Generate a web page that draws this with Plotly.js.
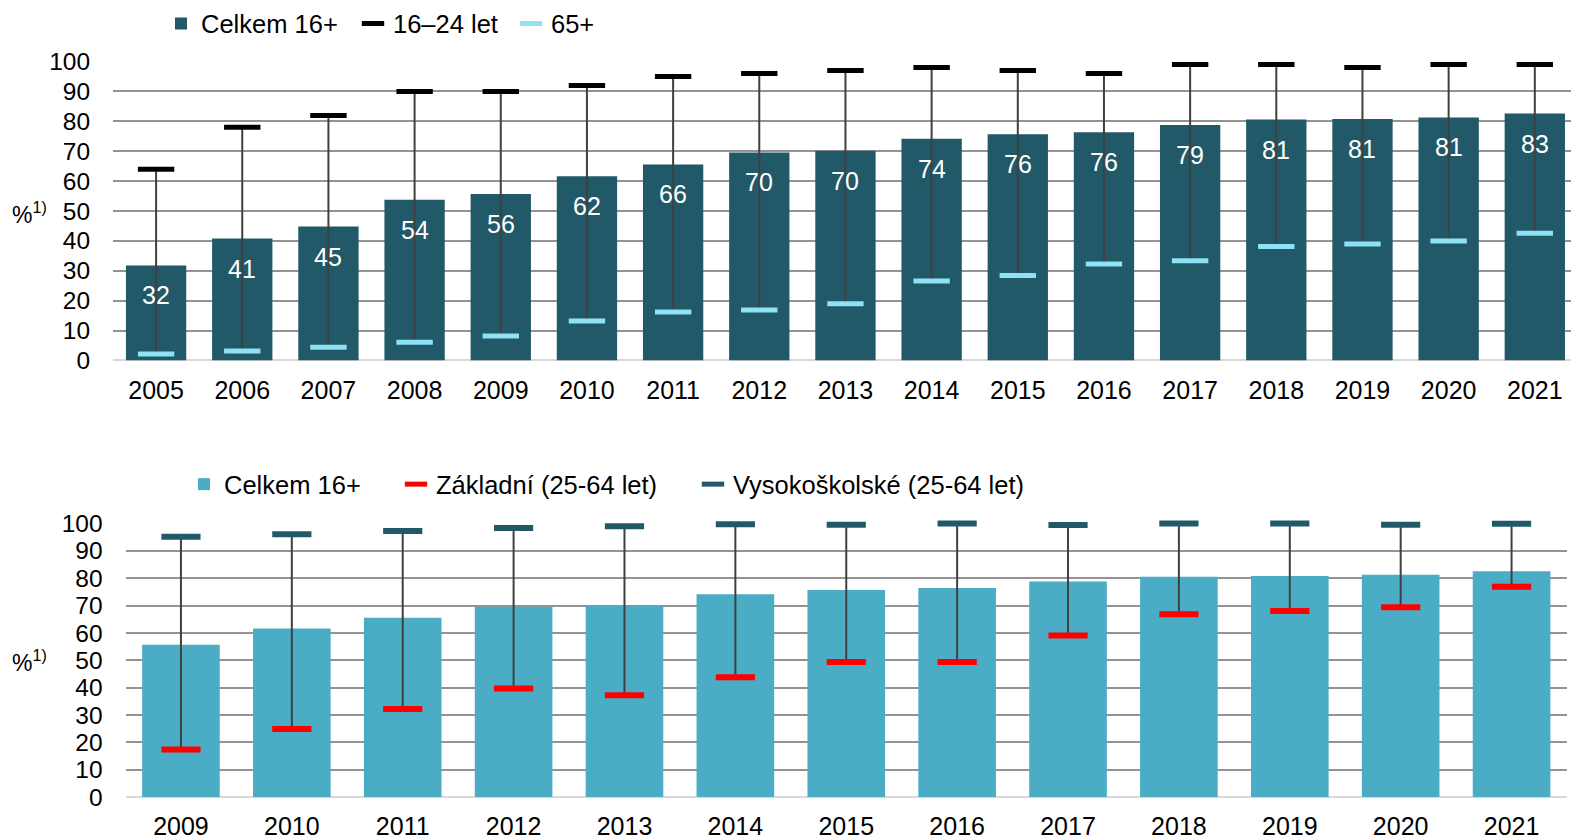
<!DOCTYPE html>
<html>
<head>
<meta charset="utf-8">
<script src="https://cdn.plot.ly/plotly-3.0.1.min.js"></script>
<style>html,body{margin:0;padding:0;background:#fff;}#chart{width:1571px;height:840px;}</style>
</head>
<body>
<div id="chart"></div>
<script>
// ---- Data ----
const years1 = ['2005','2006','2007','2008','2009','2010','2011','2012','2013','2014','2015','2016','2017','2018','2019','2020','2021'];
const total1 = [31.8, 40.8, 44.8, 53.8, 55.7, 61.6, 65.6, 69.6, 70.2, 74.2, 75.7, 76.4, 78.8, 80.6, 80.8, 81.3, 82.6];
const age1624 = [64, 78, 82, 90, 90, 92, 95, 96, 97, 98, 97, 96, 99, 99, 98, 99, 99];
const age65 = [2.2, 3.2, 4.4, 6.1, 8.2, 13.2, 16.2, 16.9, 19.0, 26.6, 28.4, 32.3, 33.4, 38.1, 39.0, 40.0, 42.6];

const years2 = ['2009','2010','2011','2012','2013','2014','2015','2016','2017','2018','2019','2020','2021'];
const total2 = [55.7, 61.6, 65.6, 69.6, 70.2, 74.2, 75.7, 76.4, 78.8, 80.6, 80.8, 81.3, 82.6];
const basic = [17.4, 24.9, 32.2, 39.7, 37.2, 43.8, 49.4, 49.4, 59.1, 66.8, 68.0, 69.4, 76.9];
const tertiary = [95.2, 96.1, 97.3, 98.4, 99.0, 99.8, 99.6, 100, 99.5, 100, 100, 99.6, 99.9];

const yTicks = [0,10,20,30,40,50,60,70,80,90,100];

// ---- helpers ----
const W = 1571, H = 840;
const px = v => v / W;
const py = v => 1 - v / H;
function whisker(xs, lo, hi) {
  const x = [], y = [];
  xs.forEach((c, i) => { x.push(c, c, null); y.push(lo[i], hi[i], null); });
  return {x, y};
}
const FONT = 'Liberation Sans, Arial, sans-serif';

const w1 = whisker(years1, age65, age1624);
const w2 = whisker(years2, basic, tertiary);

const traces = [
  {type:'bar', x: years1, y: total1, name:'Celkem 16+', marker:{color:'#215968'}, width:0.7,
   xaxis:'x', yaxis:'y', legend:'legend', hoverinfo:'y'},
  {type:'scatter', mode:'lines', x: w1.x, y: w1.y, line:{color:'#404040', width:2}, showlegend:false,
   xaxis:'x', yaxis:'y', hoverinfo:'skip'},
  {type:'scatter', mode:'markers', x: years1, y: age65, name:'65+',
   marker:{symbol:'line-ew', size:26, line:{width:5, color:'#8fe1f5'}, color:'#8fe1f5'},
   xaxis:'x', yaxis:'y', legend:'legend3', cliponaxis:false},
  {type:'scatter', mode:'markers', x: years1, y: age1624, name:'16–24 let',
   marker:{symbol:'line-ew', size:26, line:{width:5, color:'#000000'}, color:'#000000'},
   xaxis:'x', yaxis:'y', legend:'legend2', cliponaxis:false},

  {type:'bar', x: years2, y: total2, name:'Celkem 16+', marker:{color:'#4bacc6'}, width:0.7,
   xaxis:'x2', yaxis:'y2', legend:'legend4', hoverinfo:'y'},
  {type:'scatter', mode:'lines', x: w2.x, y: w2.y, line:{color:'#404040', width:2}, showlegend:false,
   xaxis:'x2', yaxis:'y2', hoverinfo:'skip'},
  {type:'scatter', mode:'markers', x: years2, y: basic, name:'Základní (25-64 let)',
   marker:{symbol:'line-ew', size:28, line:{width:6, color:'#ff0000'}, color:'#ff0000'},
   xaxis:'x2', yaxis:'y2', legend:'legend5', cliponaxis:false},
  {type:'scatter', mode:'markers', x: years2, y: tertiary, name:'Vysokoškolské (25-64 let)',
   marker:{symbol:'line-ew', size:28, line:{width:6, color:'#215968'}, color:'#215968'},
   xaxis:'x2', yaxis:'y2', legend:'legend6', cliponaxis:false}
];

// bar value labels (top chart) built from the data; category axes take the serial index
const annotations = years1.map((c, i) => ({
  x: i, y: total1[i], xref:'x', yref:'y', text: String(Math.round(total1[i])),
  showarrow:false, yshift:-30, font:{family:FONT, size:25, color:'#ffffff'}
}));
annotations.push(
  {xref:'paper', yref:'paper', x:px(10), y:py(208), xanchor:'left', yanchor:'middle', showarrow:false,
   text:'%<sup>1)</sup>', font:{family:FONT, size:23, color:'#000'}},
  {xref:'paper', yref:'paper', x:px(10), y:py(660), xanchor:'left', yanchor:'middle', showarrow:false,
   text:'%<sup>1)</sup>', font:{family:FONT, size:23, color:'#000'}}
);

function yax(domain) {
  return {domain, range:[0,100], tickvals:yTicks, ticktext:yTicks.map(String),
    showgrid:true, gridcolor:'#939393', gridwidth:2, zeroline:true, zerolinecolor:'#d9d9d9', zerolinewidth:2,
    showline:false, ticks:'outside', ticklen:17, tickcolor:'rgba(0,0,0,0)', automargin:false,
    tickfont:{family:FONT, size:24.5, color:'#000'}, fixedrange:true};
}
function xax(domain, n, anchor, tl) {
  return {domain, range:[-0.5, n], type:'category', anchor, showgrid:false, zeroline:false, showline:false,
    ticks:'outside', ticklen:tl, tickcolor:'rgba(0,0,0,0)', automargin:false,
    tickfont:{family:FONT, size:25, color:'#000'}, fixedrange:true};
}
function leg(x, y) {
  return {x:px(x), y:py(y), xanchor:'left', yanchor:'middle', orientation:'h', bgcolor:'rgba(0,0,0,0)',
    font:{family:FONT, size:25.5, color:'#000'}, borderwidth:0};
}

const layout = {
  width:W, height:H, margin:{l:0, r:0, t:0, b:0}, paper_bgcolor:'#fff', plot_bgcolor:'#fff',
  showlegend:true, bargap:0.3,
  xaxis: xax([px(113), 1], 16.42, 'y', 8),
  yaxis: yax([py(357), py(56)]),
  xaxis2: xax([px(125.5), px(1567)], 12.5, 'y2', 7),
  yaxis2: yax([py(796.7), py(521.3)]),
  legend: leg(161, 18), legend2: leg(353, 18), legend3: leg(511, 18),
  legend4: leg(184, 482), legend5: leg(396, 482), legend6: leg(693, 482),
  annotations
};
layout.yaxis2.anchor = 'x2';
layout.yaxis.anchor = 'x';

Plotly.newPlot('chart', traces, layout, {displayModeBar:false, staticPlot:true});
</script>
</body>
</html>
